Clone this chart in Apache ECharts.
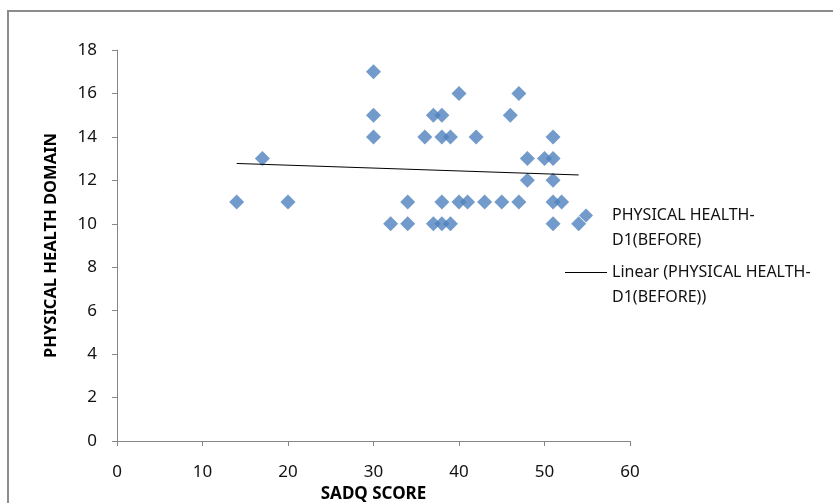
<!DOCTYPE html>
<html>
<head>
<meta charset="utf-8">
<script src="https://cdn.jsdelivr.net/npm/echarts@6/dist/echarts.min.js"></script>
<style>
html,body{margin:0;padding:0;background:#fff;}
#c{width:833px;height:503px;}
</style>
</head>
<body>
<div id="c"></div>
<script>
// SADQ score (x) and physical health domain D1 before (y)
var sadqScores = [14,17,20,30,30,30,32,34,34,36,37,37,38,38,38,38,39,39,40,40,41,42,43,45,46,47,47,48,48,50,51,51,51,51,51,52,54];
var physicalHealth = [11,13,11,17,15,14,10,11,10,14,15,10,15,14,11,10,14,10,16,11,11,14,11,11,15,16,11,13,12,13,14,13,12,11,10,11,10];
var seriesName = 'PHYSICAL HEALTH-\nD1(BEFORE)';
var trendName = 'Linear (PHYSICAL HEALTH-\nD1(BEFORE))';
var xTitle = 'SADQ SCORE';
var yTitle = 'PHYSICAL HEALTH DOMAIN';

var points = sadqScores.map(function(x,i){return [x, physicalHealth[i]];});
// least squares trendline
var n = points.length, sx=0, sy=0, sxy=0, sxx=0;
points.forEach(function(p){sx+=p[0];sy+=p[1];sxy+=p[0]*p[1];sxx+=p[0]*p[0];});
var slope = (n*sxy - sx*sy)/(n*sxx - sx*sx);
var icpt = (sy - slope*sx)/n;
var xmin = Math.min.apply(null, sadqScores), xmax = Math.max.apply(null, sadqScores);
var trend = [[xmin, icpt+slope*xmin],[xmax, icpt+slope*xmax]];

var font = '"Noto Sans", "Liberation Sans", sans-serif';
var axisColor = '#868686';
var legendText = {fontFamily:font,fontSize:16,color:'#111',lineHeight:25};
var chart = echarts.init(document.getElementById('c'));
chart.setOption({
  animation:false,
  backgroundColor:'#ffffff',
  grid:{left:117,right:203,top:50,bottom:62,containLabel:false,outerBoundsMode:'none'},
  xAxis:{
    type:'value',min:0,max:60,interval:10,
    name:xTitle,nameLocation:'middle',nameGap:42,
    nameTextStyle:{fontFamily:font,fontSize:17,fontWeight:'bold',color:'#000'},
    axisLine:{show:true,lineStyle:{color:axisColor,width:1}},
    axisTick:{show:true,length:5,inside:false,lineStyle:{color:axisColor}},
    axisLabel:{margin:23,fontFamily:font,fontSize:17,color:'#111'},
    splitLine:{show:false}
  },
  yAxis:{
    type:'value',min:0,max:18,interval:2,
    name:yTitle,nameLocation:'middle',nameGap:57,nameRotate:90,
    nameTextStyle:{fontFamily:font,fontSize:16.5,fontWeight:'bold',color:'#000'},
    axisLine:{show:true,lineStyle:{color:axisColor,width:1}},
    axisTick:{show:true,length:5,inside:false,lineStyle:{color:axisColor}},
    axisLabel:{margin:20,fontFamily:font,fontSize:17,color:'#111'},
    splitLine:{show:false}
  },
  legend:[
    {
      left:560,top:173,orient:'vertical',itemWidth:42,itemHeight:14,
      data:[{name:seriesName,icon:'path://M0,7 L0,7 M21,0 L28,7 L21,14 L14,7 Z M42,7 L42,7'}],
      formatter:function(name){return '\n'+name;},
      textStyle:legendText,
      selectedMode:false
    },
    {
      left:560,top:230,orient:'vertical',itemWidth:42,itemHeight:1,
      data:[{name:trendName,icon:'rect'}],
      formatter:function(name){return '\n'+name;},
      textStyle:legendText,
      selectedMode:false
    }
  ],
  series:[
    {
      name:seriesName,type:'scatter',data:points,
      symbol:'diamond',symbolSize:[15,15],
      itemStyle:{color:'#4F81BD'},z:3
    },
    {
      name:trendName,type:'line',data:trend,
      symbol:'none',showSymbol:false,
      lineStyle:{color:'#000',width:1},
      itemStyle:{color:'#000'},z:4
    }
  ],
  graphic:[
    {type:'polyline',shape:{points:[[8,503],[8,11],[833,11]]},
     style:{stroke:'#8c8c8c',lineWidth:2,fill:null},silent:true}
  ]
});
</script>
</body>
</html>
